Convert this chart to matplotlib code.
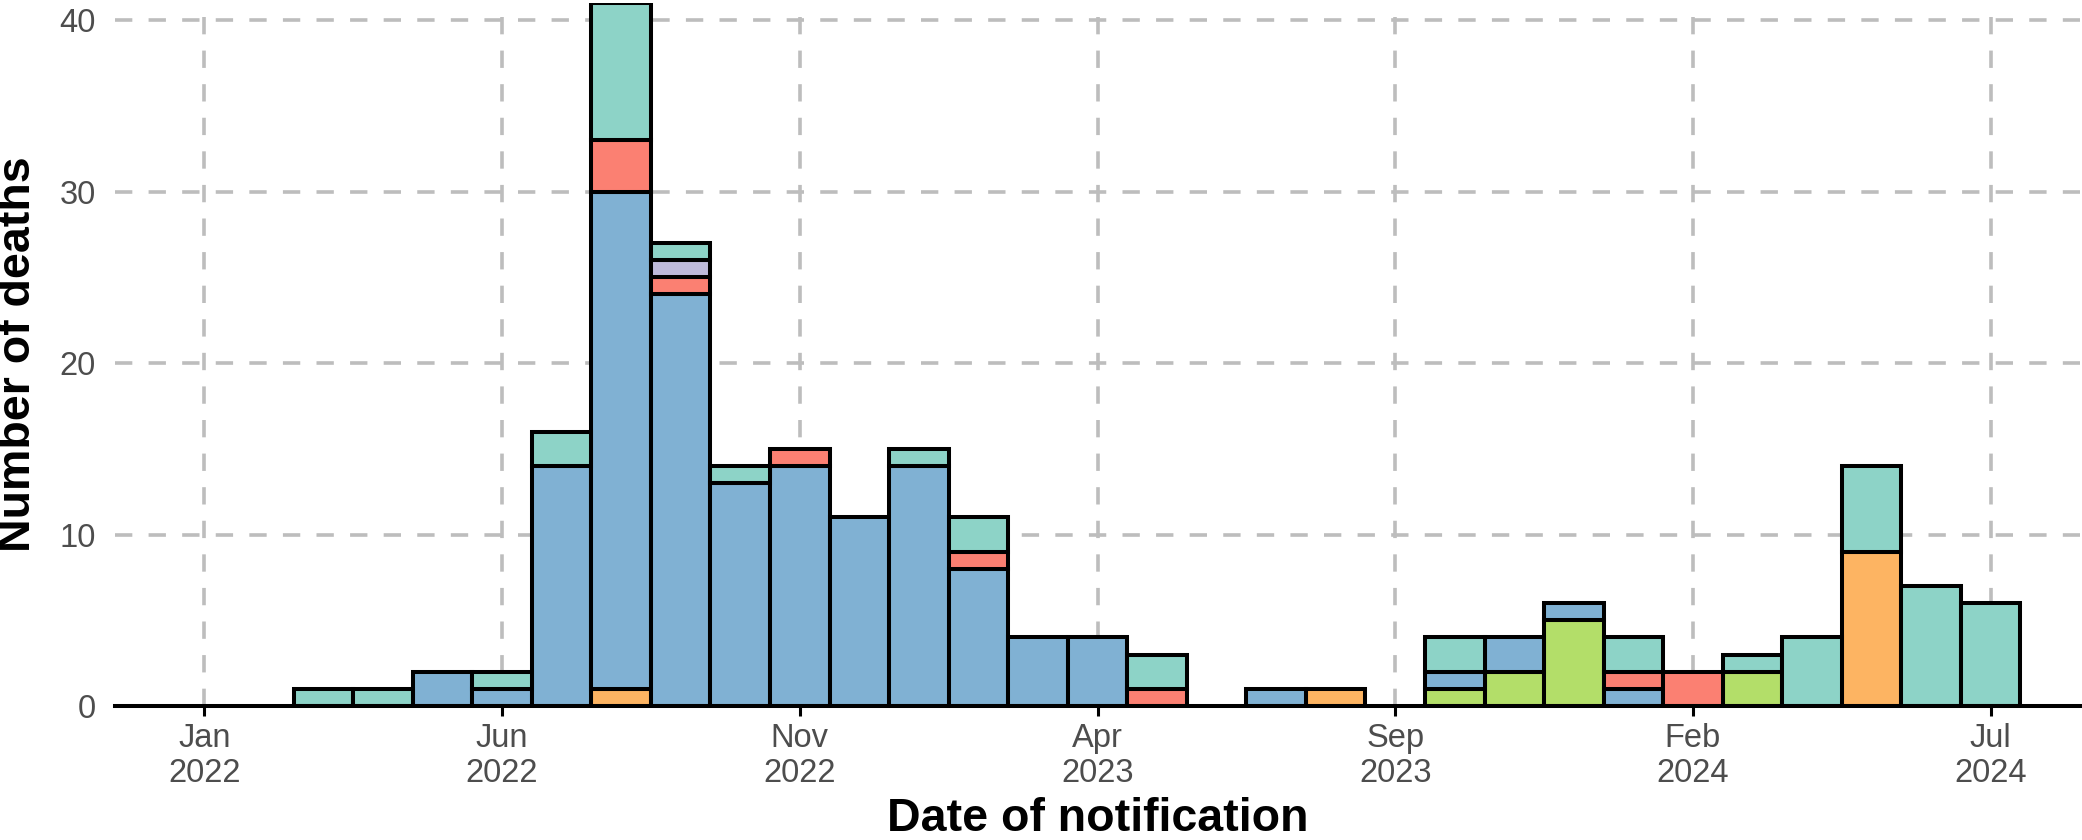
import numpy as np
import pandas as pd
import matplotlib
matplotlib.use("Agg")
import matplotlib.pyplot as plt

# Monthly notification counts, Jan 2022 - Jul 2024
months = pd.date_range("2022-01-01", "2024-07-01", freq="MS")

teal   = [0, 0, 1, 1, 0, 1, 2, 8, 1, 1, 0, 0, 1, 2, 0, 0, 2, 0, 0, 0, 0, 2, 0, 0, 2, 0, 1, 4, 5, 7, 6]
lilac  = [0, 0, 0, 0, 0, 0, 0, 0, 1, 0, 0, 0, 0, 0, 0, 0, 0, 0, 0, 0, 0, 0, 0, 0, 0, 0, 0, 0, 0, 0, 0]
salmon = [0, 0, 0, 0, 0, 0, 0, 3, 1, 0, 1, 0, 0, 1, 0, 0, 1, 0, 0, 0, 0, 0, 0, 0, 1, 2, 0, 0, 0, 0, 0]
blue   = [0, 0, 0, 0, 2, 1, 14, 29, 24, 13, 14, 11, 14, 8, 4, 4, 0, 0, 1, 0, 0, 1, 2, 1, 1, 0, 0, 0, 0, 0, 0]
orange = [0, 0, 0, 0, 0, 0, 0, 1, 0, 0, 0, 0, 0, 0, 0, 0, 0, 0, 0, 1, 0, 0, 0, 0, 0, 0, 0, 0, 9, 0, 0]
green  = [0, 0, 0, 0, 0, 0, 0, 0, 0, 0, 0, 0, 0, 0, 0, 0, 0, 0, 0, 0, 0, 1, 2, 5, 0, 0, 2, 0, 0, 0, 0]

# stacked bottom -> top
layers = [
    (green, "#B3DE69"),
    (orange, "#FDB462"),
    (blue, "#80B1D3"),
    (salmon, "#FB8072"),
    (lilac, "#BEBADA"),
    (teal, "#8DD3C7"),
]

plt.rcParams["font.family"] = ["Liberation Sans", "DejaVu Sans"]

fig = plt.figure(figsize=(20.82, 8.4), dpi=100)
ax = fig.add_axes([115 / 2082, 134 / 840, 1965 / 2082, 703 / 840])

x = np.arange(len(months))
bottom = np.zeros(len(months))
for values, colour in layers:
    values = np.array(values, dtype=float)
    keep = values > 0
    ax.bar(x[keep], values[keep], width=1.0, bottom=bottom[keep],
           color=colour, edgecolor="black", linewidth=2.9, zorder=2)
    bottom += values

ax.set_xlim(-1.5, 31.5)
ax.set_ylim(0, 41)

tick_pos = x[::5]
ax.set_xticks(tick_pos)
ax.set_xticklabels([m.strftime("%b\n%Y") for m in months[::5]])
ax.set_yticks([0, 10, 20, 30, 40])

ax.set_axisbelow(True)
ax.grid(True, color="#BDBDBD", linewidth=2.6, linestyle=(0, (4.8, 4.5)))

for side in ["left", "top", "right"]:
    ax.spines[side].set_visible(False)
ax.spines["bottom"].set_linewidth(2.9)
ax.spines["bottom"].set_zorder(3)

ax.tick_params(axis="x", length=7, width=2.2, color="black", pad=5,
               labelsize=23.5, labelcolor="#4D4D4D")
ax.tick_params(axis="y", length=0, pad=14, labelsize=23.5, labelcolor="#4D4D4D")

ax.set_xlabel("Date of notification", fontsize=33.5, fontweight="bold", va="baseline")
ax.xaxis.set_label_coords(0.5, -0.178)
ax.set_ylabel("Number of deaths", fontsize=33.5, fontweight="bold", va="center")
ax.yaxis.set_label_coords(-0.0494, 0.5)

fig.savefig("out.png", dpi=100)
